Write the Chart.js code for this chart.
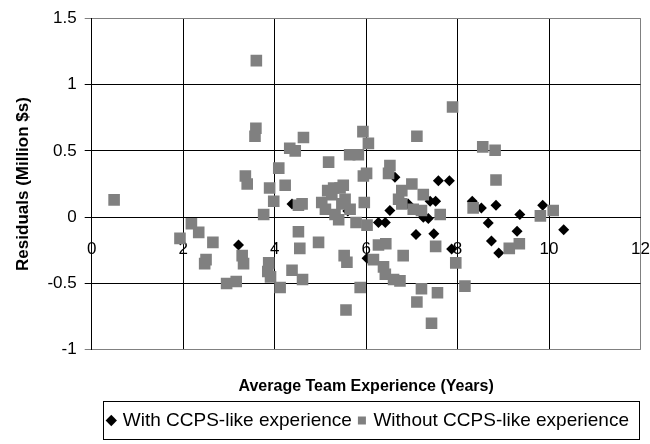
<!DOCTYPE html>
<html>
<head>
<meta charset="utf-8">
<title>Residuals vs team experience</title>
<script src="https://cdn.jsdelivr.net/npm/chart.js@4/dist/chart.umd.min.js"></script>
<style>
    body { margin: 0; background: #ffffff; }
</style>
</head>
<body>
<canvas id="residualChart" width="650" height="444"></canvas>
<script>
"use strict"

//Data
const withExpX = [3.21, 4.38, 5.60, 6.02, 6.27, 6.42, 6.52, 6.63, 6.92, 7.09, 7.25, 7.36, 7.40, 7.52,
    7.48, 7.58, 7.82, 7.87, 8.32, 8.52, 8.84, 8.67, 8.74, 8.90, 9.30, 9.36, 9.86, 10.32];
const withExpY = [-0.21, 0.10, 0.046, -0.31, -0.04, -0.04, 0.05, 0.30, 0.10, -0.13, 0.0, -0.01, 0.12, 0.12,
    -0.125, 0.275, 0.275, -0.24, 0.12, 0.07, 0.09, -0.044, -0.18, -0.27, -0.107, 0.02, 0.09, -0.095];

const withoutExpX = [0.49, 1.93, 2.18, 2.34, 2.65, 2.50, 2.47, 2.95, 3.16, 3.29, 3.32, 3.36, 3.40, 3.57,
    3.59, 3.60, 3.76, 3.89, 3.98, 3.87, 3.85, 3.91, 4.09, 4.12, 4.23, 4.33, 4.45, 4.63, 4.52, 4.60,
    4.52, 4.55, 4.38, 4.61, 4.96, 5.03, 5.11, 5.16, 5.18, 5.25, 5.29, 5.43, 5.50, 5.32, 5.40, 5.54,
    5.47, 5.65, 5.52, 5.58, 5.56, 5.64, 5.83, 5.78, 5.87, 5.93, 5.94, 6.01, 6.05, 5.96, 6.02, 6.27,
    6.43, 6.16, 6.38, 6.42, 6.60, 6.74, 6.52, 6.49, 6.71, 6.78, 6.78, 6.81, 7.00, 7.03, 7.11, 7.21,
    7.25, 7.11, 7.21, 7.43, 7.52, 7.56, 7.62, 7.89, 7.96, 8.16, 8.34, 8.55, 8.82, 8.84, 9.13, 9.35,
    9.81, 10.09];
const withoutExpY = [0.13, -0.16, -0.05, -0.115, -0.19, -0.32, -0.35, -0.50, -0.485, -0.29, -0.35, 0.31, 0.25, 0.61,
    0.67, 1.18, 0.02, 0.22, 0.12, -0.345, -0.41, -0.45, 0.37, -0.53, 0.24, 0.52, 0.50, 0.60, 0.09, 0.10,
    -0.11, -0.235, -0.40, -0.47, -0.19, 0.11, 0.06, 0.20, 0.415, 0.17, 0.22, 0.22, 0.24, 0.02, -0.02, 0.135,
    0.10, 0.06, -0.29, -0.34, -0.70, 0.47, 0.47, -0.04, -0.53, 0.645, 0.31, 0.33, 0.556, 0.11, -0.06, -0.21,
    -0.20, -0.32, -0.375, -0.43, -0.47, -0.48, 0.39, 0.33, 0.135, 0.10, 0.20, -0.29, 0.25, 0.06, 0.61, 0.05,
    0.17, -0.64, -0.54, -0.80, -0.22, -0.57, 0.02, 0.83, -0.345, -0.52, 0.07, 0.53, 0.505, 0.28, -0.235, -0.20,
    0.01, 0.05];

const seriesNames = ["With CCPS-like experience", "Without CCPS-like experience"];
const xRange = [0, 12];
const yRange = [-1, 1.5];

const canvas = document.getElementById("residualChart");
const fontFamily = "'Liberation Sans', Arial, sans-serif";

//Pair up x and y lists into points
function toPoints(xs, ys) {
    return xs.map((x, i) => ({ x: x, y: ys[i] }));
}

//Frame lines (top, bottom, right) are grey, inner grid is black
function yGridColor(ctx) {
    if (ctx.tick && (ctx.tick.value === yRange[0] || ctx.tick.value === yRange[1])) {
        return "#808080";
    }
    return "#000000";
}
function xGridColor(ctx) {
    if (ctx.tick && ctx.tick.value === xRange[1]) {
        return "#808080";
    }
    return "#000000";
}

//Nudges the legend a little to the right and draws the black box round it
const legendFrame = {
    id: "legendFrame",
    afterLayout(chart) {
        if (chart.legend) {
            chart.legend.left += 3;
            chart.legend.right += 3;
        }
    },
    afterDraw(chart) {
        const boxes = chart.legend && chart.legend.legendHitBoxes;
        if (!boxes || boxes.length === 0) {
            return;
        }
        const left = Math.min(...boxes.map(b => b.left)) - 6;
        const right = Math.max(...boxes.map(b => b.left + b.width)) + 10;
        const top = Math.min(...boxes.map(b => b.top)) - 10;
        const bottom = Math.max(...boxes.map(b => b.top + b.height)) + 9;
        const ctx = chart.ctx;
        ctx.save();
        ctx.strokeStyle = "#000000";
        ctx.lineWidth = 1;
        ctx.strokeRect(Math.round(left) + 0.5, Math.round(top) + 0.5,
            Math.round(right - left), Math.round(bottom - top));
        ctx.restore();
    }
};

new Chart(canvas, {
    type: "scatter",
    data: {
        datasets: [{
            label: seriesNames[0],
            data: toPoints(withExpX, withExpY),
            pointStyle: "rectRot",
            pointRadius: 5.5,
            pointHoverRadius: 5.5,
            backgroundColor: "#000000",
            borderColor: "#000000",
            borderWidth: 0,
            order: 1
        }, {
            label: seriesNames[1],
            data: toPoints(withoutExpX, withoutExpY),
            pointStyle: "rect",
            pointRadius: 8.2,
            pointHoverRadius: 8.2,
            backgroundColor: "#808080",
            borderColor: "#808080",
            borderWidth: 0,
            order: 0
        }]
    },
    options: {
        responsive: false,
        animation: false,
        layout: {
            padding: { left: 13, right: 0, top: 13, bottom: 4 }
        },
        scales: {
            x: {
                type: "linear",
                position: { y: 0 },
                min: xRange[0],
                max: xRange[1],
                ticks: {
                    stepSize: 2,
                    padding: 0,
                    color: "#000000",
                    font: { family: fontFamily, size: 17 }
                },
                grid: {
                    color: xGridColor,
                    lineWidth: 1,
                    drawTicks: true,
                    tickLength: 22,
                    tickColor: "rgba(0,0,0,0)"
                },
                border: { display: true, color: "#000000", width: 1 }
            },
            y: {
                type: "linear",
                min: yRange[0],
                max: yRange[1],
                ticks: {
                    stepSize: 0.5,
                    padding: 8,
                    color: "#000000",
                    font: { family: fontFamily, size: 17 },
                    callback: value => String(value)
                },
                grid: {
                    color: yGridColor,
                    lineWidth: 1,
                    tickLength: 7
                },
                border: { display: true, color: "#000000", width: 1 },
                title: {
                    display: true,
                    text: "Residuals (Million $s)",
                    color: "#000000",
                    font: { family: fontFamily, size: 17, weight: "bold" },
                    padding: { top: 0, bottom: 6 }
                }
            }
        },
        plugins: {
            title: {
                display: true,
                text: "Average Team Experience (Years)",
                position: "bottom",
                fullSize: false,
                weight: 500,
                color: "#000000",
                font: { family: fontFamily, size: 16, weight: "bold" },
                padding: { top: 27, bottom: 7 }
            },
            legend: {
                position: "bottom",
                fullSize: false,
                labels: {
                    usePointStyle: true,
                    boxWidth: 4,
                    boxHeight: 8,
                    padding: 8,
                    color: "#000000",
                    font: { family: fontFamily, size: 19 },
                    sort: (a, b) => a.datasetIndex - b.datasetIndex
                }
            },
            tooltip: { enabled: false }
        }
    },
    plugins: [legendFrame]
});
</script>
</body>
</html>
